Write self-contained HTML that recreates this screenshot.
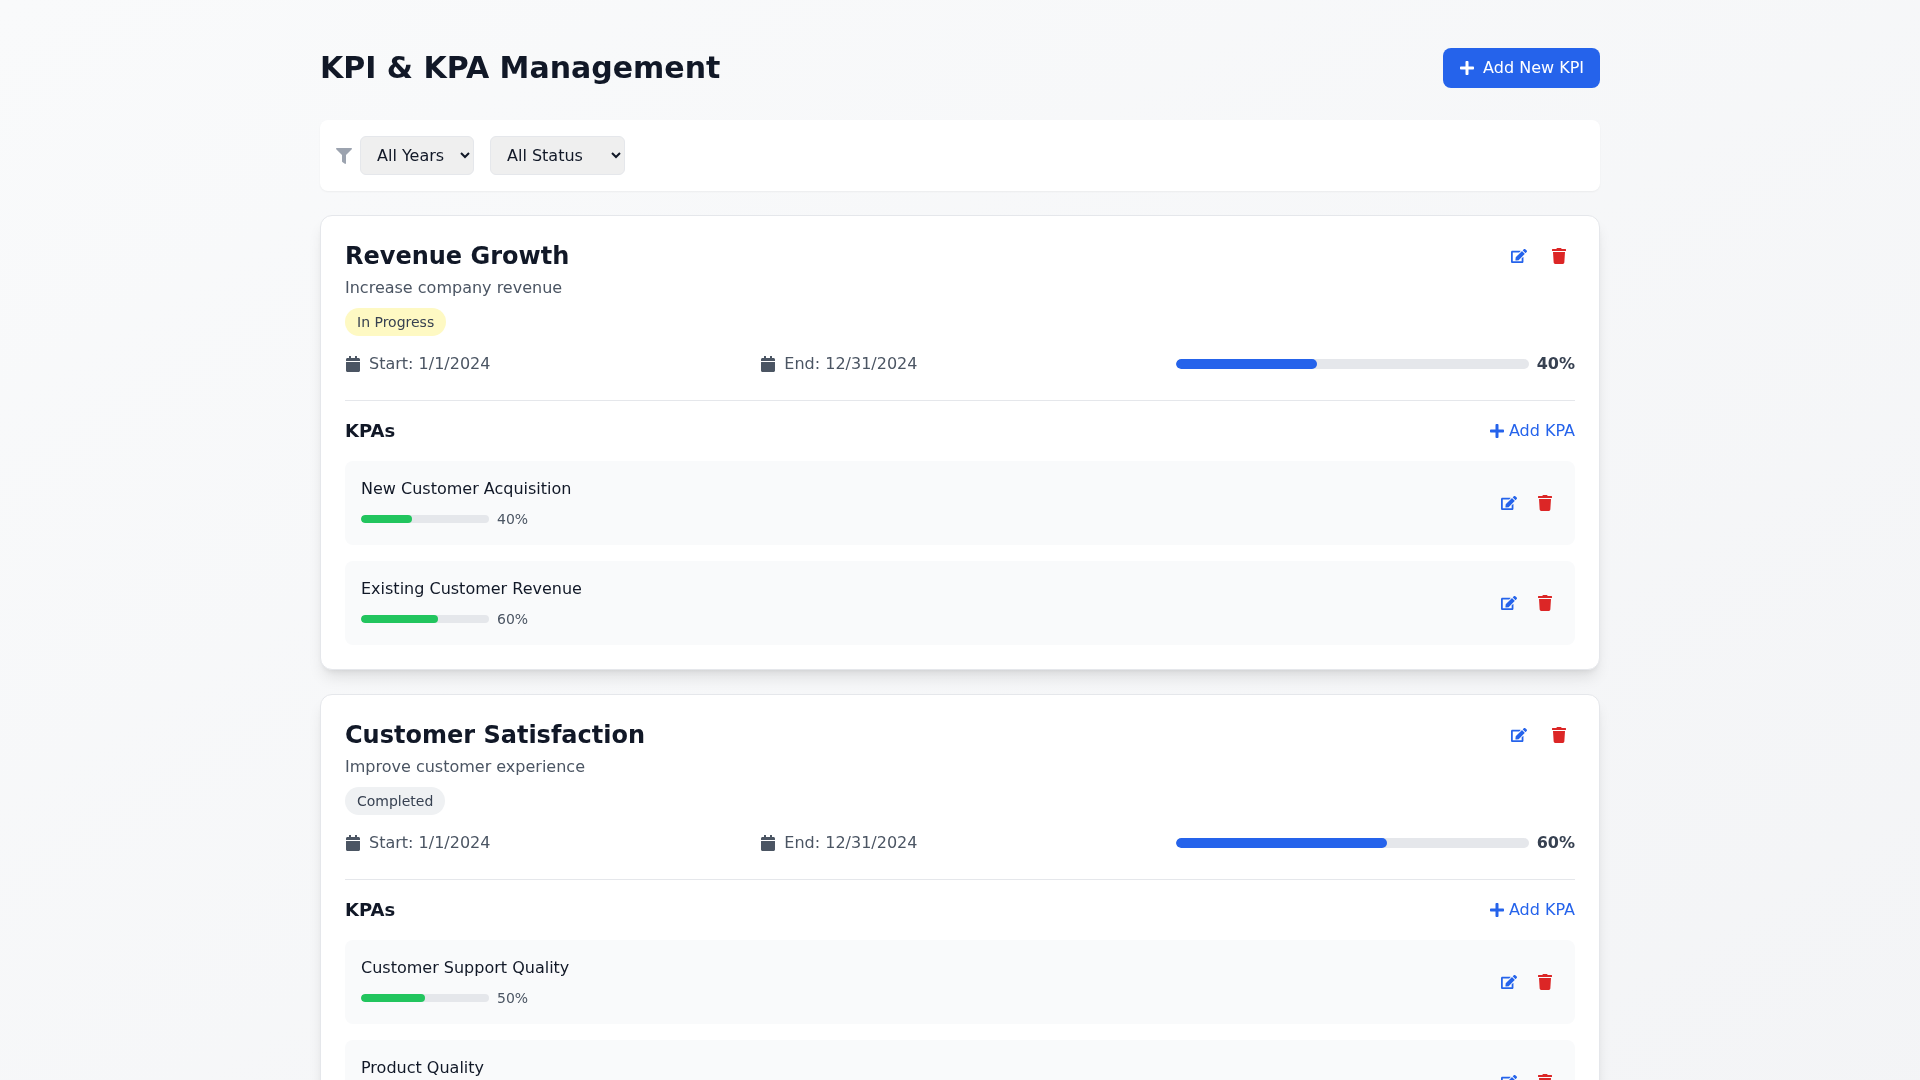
<!DOCTYPE html>
<html lang="en">
<head>
<meta charset="utf-8">
<title>KPI &amp; KPA Management</title>
<style>
*,*::before,*::after{box-sizing:border-box;margin:0;padding:0;border:0 solid #e5e7eb}
html,body{width:1920px;height:1080px;overflow:hidden}
body{font-family:"DejaVu Sans","Liberation Sans",sans-serif;font-size:16px;line-height:24px;color:#111827;-webkit-font-smoothing:antialiased}
.page{will-change:transform;min-height:1080px;padding:48px 0 24px;background:linear-gradient(to bottom right,#f9fafb,#f3f4f6)}
.wrap{width:1280px;margin:0 auto}
.hdr{display:flex;justify-content:space-between;align-items:center;margin-bottom:32px;height:40px}
h1{font-size:30px;line-height:36px;font-weight:700;color:#111827}
.btn{display:flex;align-items:center;background:#2563eb;color:#fff;height:40px;padding:8px 16px;border-radius:8px;font-size:16px;line-height:24px}
.btn svg{width:16px;height:16px;margin-right:8px;fill:currentColor}
.filters{background:#fff;border-radius:8px;box-shadow:0 1px 2px 0 rgba(0,0,0,.05);padding:16px;display:flex;align-items:center;margin-bottom:24px;height:71px}
.filters svg.fi{width:16px;height:16px;fill:#9ca3af;margin-right:8px}
select{font-family:inherit;font-size:100%;line-height:inherit;color:inherit;border-width:1px;border-radius:6px;padding:8px 12px;margin-right:16px}
.card{background:#fff;border:1px solid #e5e7eb;border-radius:12px;padding:24px;margin-bottom:24px;box-shadow:0 10px 15px -3px rgba(0,0,0,.1),0 4px 6px -4px rgba(0,0,0,.1)}
.top{display:flex;justify-content:space-between;align-items:flex-start}
h2{font-size:24px;line-height:32px;font-weight:700;color:#111827}
.desc{color:#4b5563;margin-top:4px}
.badge{display:inline-block;font-size:14px;line-height:20px;padding:4px 12px;border-radius:9999px;margin-top:8px;color:#374151}
.b-y{background:#fef9c3}
.b-g{background:#eff1f3;color:#374151}
.acts{display:flex;padding:8px 8px 0 0}
.acts svg{width:16px;height:16px;margin-left:24px}
.ed{fill:#2563eb}.tr{fill:#dc2626}
.grid{display:grid;grid-template-columns:repeat(3,1fr);gap:16px;margin-top:16px;color:#4b5563}
.grid>div{display:flex;align-items:center;height:24px}
.grid svg{width:16px;height:16px;fill:#4b5563;margin-right:8px}
.bar{flex:1;height:10px;border-radius:9999px;background:#e5e7eb;overflow:hidden}
.bar i{display:block;height:100%;background:#2563eb;border-radius:9999px}
.pct{margin-left:8px;font-weight:700;color:#374151}
.kpas{margin-top:24px;border-top:1px solid #e5e7eb;padding-top:16px}
.kh{display:flex;justify-content:space-between;align-items:center;margin-bottom:16px;height:28px}
h3{font-size:18px;line-height:28px;font-weight:700;color:#111827}
.add{display:flex;align-items:center;color:#2563eb}
.add svg{width:16px;height:16px;fill:#2563eb;margin-right:4px}
.kpa{background:#f9fafb;border-radius:8px;padding:16px;display:flex;justify-content:space-between;align-items:center;margin-bottom:16px;height:84px}
.kpa:last-child{margin-bottom:0}
.kn{color:#111827}
.kp{display:flex;align-items:center;margin-top:8px;height:20px}
.kbar{width:128px;height:8px;border-radius:9999px;background:#e5e7eb;overflow:hidden}
.kbar i{display:block;height:100%;background:#22c55e;border-radius:9999px}
.kpct{margin-left:8px;font-size:14px;line-height:20px;color:#4b5563}
.ka{display:flex;padding-right:6px}
.ka svg{width:16px;height:16px;margin-left:20px}
</style>
</head>
<body>
<svg width="0" height="0" style="position:absolute">
<defs>
<symbol id="plus" viewBox="0 0 448 512"><path d="M416 208H272V64c0-17.670-14.330-32-32-32h-32c-17.670 0-32 14.330-32 32v144H32c-17.670 0-32 14.330-32 32v32c0 17.670 14.330 32 32 32h144v144c0 17.670 14.330 32 32 32h32c17.670 0 32-14.330 32-32V304h144c17.670 0 32-14.330 32-32v-32c0-17.670-14.330-32-32-32z"/></symbol>
<symbol id="trash" viewBox="0 0 448 512"><path d="M432 32H312l-9.400-18.700A24 24 0 0 0 281.100 0H166.800a23.720 23.720 0 0 0-21.400 13.300L136 32H16A16 16 0 0 0 0 48v32a16 16 0 0 0 16 16h416a16 16 0 0 0 16-16V48a16 16 0 0 0-16-16zM53.200 467a48 48 0 0 0 47.900 45h245.800a48 48 0 0 0 47.900-45L416 128H32z"/></symbol>
<symbol id="edit" viewBox="0 0 576 512"><path d="M402.600 83.200l90.200 90.200c3.800 3.800 3.800 10 0 13.800L274.400 405.600l-92.800 10.300c-12.400 1.400-22.900-9.100-21.500-21.500l10.300-92.800L388.800 83.200c3.800-3.800 10-3.800 13.800 0zm162-22.900l-48.800-48.800c-15.200-15.200-39.900-15.200-55.200 0l-35.400 35.400c-3.800 3.800-3.800 10 0 13.800l90.200 90.200c3.800 3.800 10 3.800 13.800 0l35.400-35.400c15.200-15.300 15.200-40 0-55.200zM384 346.200V448H64V128h229.800c3.200 0 6.200-1.300 8.500-3.500l40-40c7.600-7.600 2.200-20.500-8.500-20.500H48C21.500 64 0 85.500 0 112v352c0 26.500 21.500 48 48 48h352c26.500 0 48-21.500 48-48V306.200c0-10.700-12.900-16-20.500-8.500l-40 40c-2.200 2.300-3.500 5.300-3.500 8.500z"/></symbol>
<symbol id="cal" viewBox="0 0 448 512"><path d="M12 192h424c6.600 0 12 5.400 12 12v260c0 26.500-21.500 48-48 48H48c-26.500 0-48-21.500-48-48V204c0-6.600 5.400-12 12-12zm436-44v-36c0-26.500-21.500-48-48-48h-48V12c0-6.600-5.400-12-12-12h-40c-6.600 0-12 5.400-12 12v52H160V12c0-6.600-5.400-12-12-12h-40c-6.600 0-12 5.400-12 12v52H48C21.500 64 0 85.500 0 112v36c0 6.600 5.400 12 12 12h424c6.600 0 12-5.400 12-12z"/></symbol>
<symbol id="filter" viewBox="0 0 512 512"><path d="M487.976 0H24.028C2.710 0-8.047 25.866 7.058 40.971L192 225.941V432c0 7.831 3.821 15.170 10.237 19.662l80 55.980C298.020 518.690 320 507.493 320 487.980V225.941l184.947-184.970C520.021 25.896 509.338 0 487.976 0z"/></symbol>
</defs>
</svg>
<div class="page"><div class="wrap">
<div class="hdr"><h1>KPI &amp; KPA Management</h1><div class="btn"><svg><use href="#plus"/></svg>Add New KPI</div></div>
<div class="filters"><svg class="fi"><use href="#filter"/></svg>
<select><option>All Years</option><option>2024</option><option>2023</option></select><select><option>All Status</option><option>In Progress</option><option>Completed</option></select>
</div>
<div class="card">
<div class="top"><div><h2>Revenue Growth</h2><p class="desc">Increase company revenue</p><span class="badge b-y">In Progress</span></div><div class="acts"><svg class="ed"><use href="#edit"/></svg><svg class="tr"><use href="#trash"/></svg></div></div>
<div class="grid"><div><svg><use href="#cal"/></svg>Start: 1/1/2024</div><div><svg><use href="#cal"/></svg>End: 12/31/2024</div><div><div class="bar"><i style="width:40%"></i></div><span class="pct">40%</span></div></div>
<div class="kpas"><div class="kh"><h3>KPAs</h3><div class="add"><svg><use href="#plus"/></svg>Add KPA</div></div>
<div class="kpa"><div><div class="kn">New Customer Acquisition</div><div class="kp"><div class="kbar"><i style="width:40%"></i></div><span class="kpct">40%</span></div></div><div class="ka"><svg class="ed"><use href="#edit"/></svg><svg class="tr"><use href="#trash"/></svg></div></div>
<div class="kpa"><div><div class="kn">Existing Customer Revenue</div><div class="kp"><div class="kbar"><i style="width:60%"></i></div><span class="kpct">60%</span></div></div><div class="ka"><svg class="ed"><use href="#edit"/></svg><svg class="tr"><use href="#trash"/></svg></div></div>
</div>
</div>
<div class="card">
<div class="top"><div><h2>Customer Satisfaction</h2><p class="desc">Improve customer experience</p><span class="badge b-g">Completed</span></div><div class="acts"><svg class="ed"><use href="#edit"/></svg><svg class="tr"><use href="#trash"/></svg></div></div>
<div class="grid"><div><svg><use href="#cal"/></svg>Start: 1/1/2024</div><div><svg><use href="#cal"/></svg>End: 12/31/2024</div><div><div class="bar"><i style="width:60%"></i></div><span class="pct">60%</span></div></div>
<div class="kpas"><div class="kh"><h3>KPAs</h3><div class="add"><svg><use href="#plus"/></svg>Add KPA</div></div>
<div class="kpa"><div><div class="kn">Customer Support Quality</div><div class="kp"><div class="kbar"><i style="width:50%"></i></div><span class="kpct">50%</span></div></div><div class="ka"><svg class="ed"><use href="#edit"/></svg><svg class="tr"><use href="#trash"/></svg></div></div>
<div class="kpa"><div><div class="kn">Product Quality</div><div class="kp"><div class="kbar"><i style="width:70%"></i></div><span class="kpct">70%</span></div></div><div class="ka"><svg class="ed"><use href="#edit"/></svg><svg class="tr"><use href="#trash"/></svg></div></div>
</div>
</div>
</div></div>
</body>
</html>
